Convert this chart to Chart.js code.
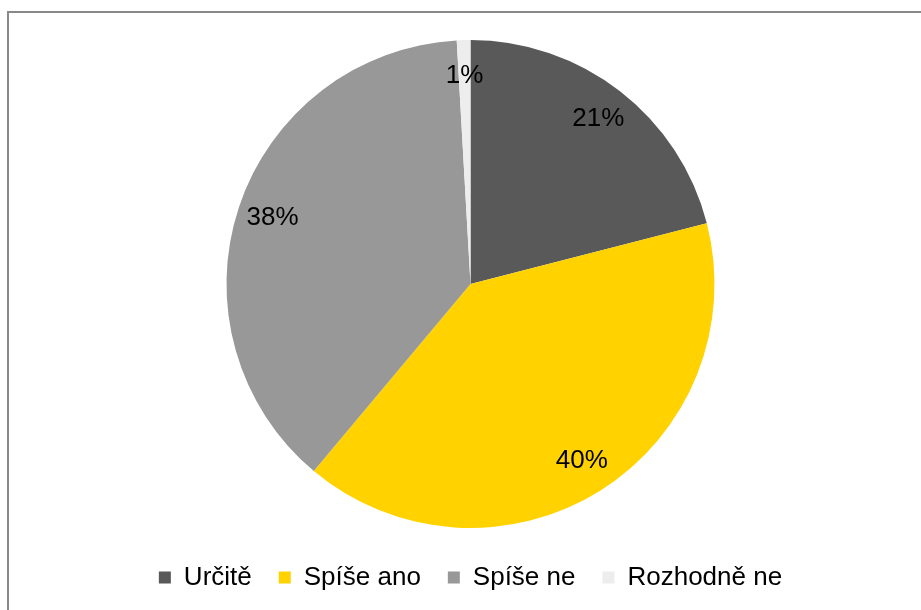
<!DOCTYPE html>
<html>
<head>
<meta charset="utf-8">
<script src="https://cdn.jsdelivr.net/npm/chart.js@4/dist/chart.umd.min.js"></script>
<style>
  html, body { margin: 0; padding: 0; background: #fff; overflow: hidden; }
  #wrap { position: relative; width: 921px; height: 610px; }
  #frame { position: absolute; left: 7px; top: 11px; width: 1000px; height: 700px; border: 2px solid #898989; box-sizing: border-box; }
  canvas { position: absolute; left: 0; top: 0; }
</style>
</head>
<body>
<div id="wrap">
  <div id="frame"></div>
  <canvas id="c" width="921" height="610"></canvas>
</div>
<script>
const categories = ["Určitě", "Spíše ano", "Spíše ne", "Rozhodně ne"];
const values = [21.0, 40.1, 38.0, 0.9];
const colors = ["#595959", "#FFD200", "#989898", "#EDEDED"];

const FONT = "'Liberation Sans', Arial, sans-serif";

const pctLabels = {
  id: 'pctLabels',
  afterDatasetsDraw(chart) {
    const ctx = chart.ctx;
    const meta = chart.getDatasetMeta(0);
    const total = values.reduce((a, b) => a + b, 0);
    ctx.save();
    ctx.font = "26px " + FONT;
    ctx.fillStyle = "#000";
    ctx.textAlign = "center";
    ctx.textBaseline = "middle";
    meta.data.forEach((arc, i) => {
      const p = arc.getProps(['x', 'y', 'startAngle', 'endAngle', 'outerRadius'], true);
      const mid = (p.startAngle + p.endAngle) / 2;
      const r = p.outerRadius * 0.855;
      const x = p.x + Math.cos(mid) * r;
      const y = p.y + Math.sin(mid) * r;
      ctx.fillText(Math.round(values[i] / total * 100) + "%", x, y);
    });
    ctx.restore();
  }
};

new Chart(document.getElementById('c'), {
  type: 'pie',
  data: {
    labels: categories,
    datasets: [{
      data: values,
      backgroundColor: colors,
      borderWidth: 0,
      radius: 244
    }]
  },
  options: {
    responsive: false,
    animation: false,
    layout: { padding: { top: 30.5, bottom: 9.5, left: 20, right: 0 } },
    plugins: {
      tooltip: { enabled: false },
      legend: {
        position: 'bottom',
        labels: {
          boxWidth: 12,
          boxHeight: 12,
          padding: 27,
          color: '#000',
          font: { family: FONT, size: 26 }
        }
      }
    }
  },
  plugins: [pctLabels]
});
</script>
</body>
</html>
